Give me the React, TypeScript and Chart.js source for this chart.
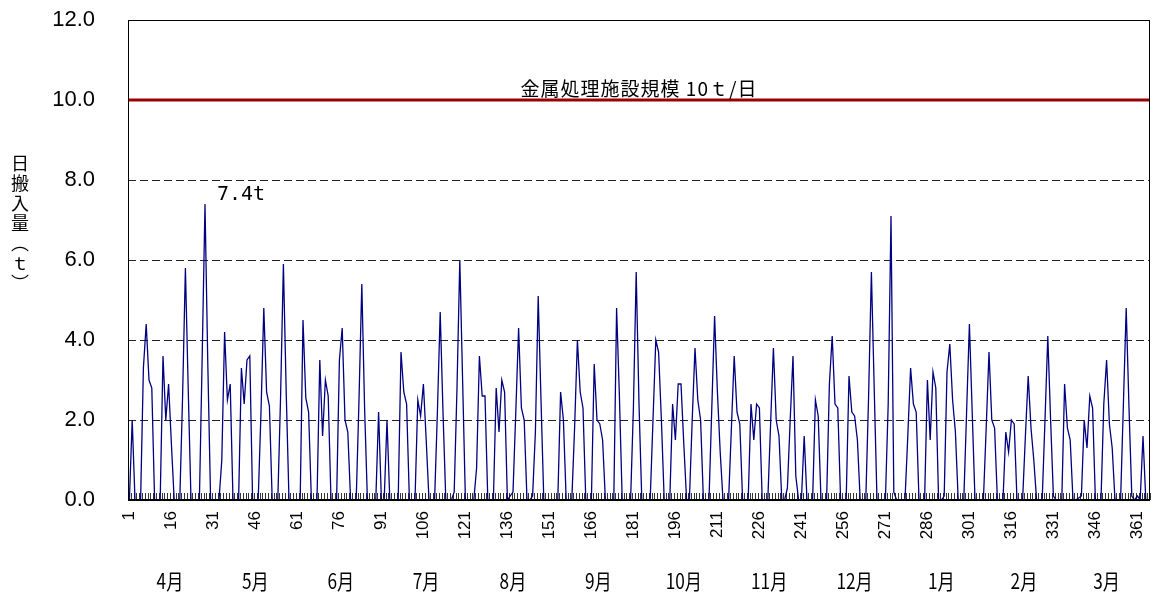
import React, { useEffect, useRef } from "react";
import { Chart, registerables } from "chart.js";

Chart.register(...registerables);

// Daily delivered amount (t) per month, fiscal year April -> March
const APR = [0, 2.0, 0, 0, 0, 3.3, 4.4, 3.0, 2.8, 0, 0, 0, 3.6, 2.0, 2.9, 1.4, 0, 0, 0, 2.6, 5.8, 2.8, 0, 0, 0, 0, 3.6, 7.4, 3.4, 0];
const MAY = [0, 0, 0, 1.0, 4.2, 2.5, 2.9, 0, 0, 0, 3.3, 2.4, 3.5, 3.6, 0, 0, 0, 2.2, 4.8, 2.7, 2.35, 0, 0, 0, 2.6, 5.9, 2.7, 0, 0, 0, 0];
const JUN = [0, 4.5, 2.55, 2.2, 0, 0, 0, 3.5, 1.6, 3.0, 2.6, 0, 0, 0, 3.5, 4.3, 2.0, 1.7, 0, 0, 0, 2.5, 5.4, 2.3, 0, 0, 0, 0, 2.2, 0];
const JUL = [0, 2.0, 0, 0, 0, 0, 3.7, 2.7, 2.4, 0, 0, 0, 2.5, 2.1, 2.9, 1.5, 0, 0, 0, 2.2, 4.7, 2.2, 0, 0, 0, 0.2, 2.8, 6.0, 3.0, 0, 0];
const AUG = [0, 0, 0.8, 3.6, 2.6, 2.6, 0, 0, 0, 2.8, 1.7, 3.0, 2.7, 0, 0.1, 0.2, 2.2, 4.3, 2.3, 2.0, 0, 0, 0.1, 1.7, 5.1, 2.5, 0, 0, 0, 0, 0];
const SEP = [0, 2.7, 2.0, 0, 0, 0, 1.8, 4.0, 2.7, 2.3, 0, 0, 0, 3.4, 2.0, 1.9, 1.5, 0, 0, 0, 0, 4.8, 2.6, 0, 0, 0, 0, 2.3, 5.7, 2.4];
const OCT = [0, 0, 0, 0, 2.0, 4.0, 3.7, 2.0, 0, 0, 0, 2.4, 1.5, 2.9, 2.9, 1.4, 0, 0, 2.0, 3.8, 2.5, 2.0, 0, 0, 0, 2.3, 4.6, 2.7, 1.2, 0, 0];
const NOV = [0, 1.8, 3.6, 2.2, 1.9, 0, 0, 0, 2.4, 1.5, 2.4, 2.3, 0, 0, 0, 1.9, 3.8, 2.0, 1.6, 0, 0, 0.3, 2.0, 3.6, 0.6, 0, 0, 1.6, 0, 0];
const DEC = [0, 2.5, 2.1, 0, 0, 0, 2.9, 4.1, 2.4, 2.3, 0, 0, 0, 3.1, 2.2, 2.1, 1.5, 0, 0, 0, 2.6, 5.7, 2.8, 0, 0, 0, 0, 2.4, 7.1, 0.2, 0];
const JAN = [0, 0, 0, 1.6, 3.3, 2.4, 2.2, 0, 0, 0, 3.0, 1.5, 3.2, 2.8, 0, 0, 0.1, 3.2, 3.9, 2.5, 1.7, 0, 0, 0, 2.2, 4.4, 2.2, 0, 0, 0, 0];
const FEB = [1.8, 3.7, 2.0, 1.8, 0, 0, 0, 1.7, 1.2, 2.0, 1.9, 0, 0, 0, 1.6, 3.1, 1.8, 1.0, 0, 0, 0, 2.0, 4.1, 2.0, 0.1, 0, 0, 0];
const MAR = [2.9, 1.8, 1.5, 0, 0, 0.05, 0.1, 2.0, 1.3, 2.6, 2.3, 0, 0, 0, 2.4, 3.5, 1.9, 1.3, 0, 0, 0, 2.4, 4.8, 2.3, 0.1, 0, 0.1, 0, 1.6, 0, 0];

const MONTH_LABELS = ["4月", "5月", "6月", "7月", "8月", "9月", "10月", "11月", "12月", "1月", "2月", "3月"];
const MONTH_MID_DAYS = [15.5, 46, 76.5, 107, 138, 168.5, 199, 229.5, 260, 291, 320.5, 350];
const TICK_STEP = 15;
const Y_MIN = 0;
const Y_MAX = 12;
const Y_STEP = 2;
const CAPACITY = 10;
const CAPACITY_LABEL = "金属処理施設規模 10ｔ/日";
const PEAK_LABEL = "7.4t";
const PEAK_DAY = 28;
const PEAK_VALUE = 7.4;
const Y_TITLE = ["日", "搬", "入", "量", "︵", "ｔ", "︶"];

const DAILY = [...APR, ...MAY, ...JUN, ...JUL, ...AUG, ...SEP, ...OCT, ...NOV, ...DEC, ...JAN, ...FEB, ...MAR];
const DAYS = DAILY.map((_, i) => String(i + 1));

const SANS = "'Liberation Sans', Arial, sans-serif";
const CJK = "'Noto Sans CJK JP', sans-serif";

const overlay = {
  id: "overlay",
  beforeDatasetsDraw(chart: any) {
    const { ctx, chartArea: a, scales } = chart;
    const x = scales.x;
    ctx.save();
    ctx.strokeStyle = "#333";
    ctx.lineWidth = 1;
    ctx.beginPath();
    for (let i = 0; i <= DAILY.length; i++) {
      const px = Math.round(x.getPixelForValue(i - 0.5)) + 0.5;
      ctx.moveTo(px, a.bottom - 7);
      ctx.lineTo(px, a.bottom);
    }
    ctx.stroke();
    ctx.restore();
  },
  afterDatasetsDraw(chart: any) {
    const { ctx, chartArea: a, scales } = chart;
    const x = scales.x;
    const y = scales.y;
    ctx.save();
    // capacity line
    const cy = y.getPixelForValue(CAPACITY);
    ctx.strokeStyle = "#9b0000";
    ctx.lineWidth = 3;
    ctx.beginPath();
    ctx.moveTo(a.left, cy);
    ctx.lineTo(a.right, cy);
    ctx.stroke();

    // frame
    ctx.strokeStyle = "#000";
    ctx.lineWidth = 1;
    ctx.beginPath();
    ctx.moveTo(a.left + 0.5, a.bottom);
    ctx.lineTo(a.left + 0.5, a.top + 0.5);
    ctx.lineTo(a.right - 0.5, a.top + 0.5);
    ctx.lineTo(a.right - 0.5, a.bottom);
    ctx.stroke();
    ctx.lineWidth = 2;
    ctx.beginPath();
    ctx.moveTo(a.left, a.bottom);
    ctx.lineTo(a.right, a.bottom);
    ctx.stroke();

    // texts
    ctx.fillStyle = "#000";
    ctx.font = `19px ${CJK}`;
    ctx.textAlign = "center";
    ctx.textBaseline = "alphabetic";
    (ctx as any).letterSpacing = "1px";
    ctx.fillText(CAPACITY_LABEL, (a.left + a.right) / 2, cy - 4);
    (ctx as any).letterSpacing = "0px";

    ctx.font = `20px 'DejaVu Sans Mono', monospace`;
    ctx.textAlign = "left";
    ctx.textBaseline = "middle";
    ctx.fillText(PEAK_LABEL, x.getPixelForValue(PEAK_DAY - 1) + 12, y.getPixelForValue(PEAK_VALUE) - 9);

    // month labels (condensed)
    ctx.font = `21px ${CJK}`;
    ctx.textAlign = "center";
    ctx.textBaseline = "middle";
    MONTH_LABELS.forEach((m, i) => {
      const mx = x.getPixelForValue(MONTH_MID_DAYS[i] - 1);
      ctx.save();
      ctx.translate(mx, 581);
      ctx.scale(0.82, 1);
      ctx.fillText(m, 0, 0);
      ctx.restore();
    });

    // y axis title (vertical)
    ctx.font = `18px ${CJK}`;
    Y_TITLE.forEach((c, i) => {
      ctx.fillText(c, 20, 163 + i * 20);
    });
    ctx.restore();
  },
};

export default function App() {
  const ref = useRef<HTMLCanvasElement | null>(null);
  useEffect(() => {
    if (!ref.current) return;
    const chart = new Chart(ref.current, {
      type: "line",
      data: {
        labels: DAYS,
        datasets: [
          {
            data: DAILY,
            borderColor: "#000080",
            borderWidth: 1.3,
            pointRadius: 0,
            tension: 0,
            fill: false,
          },
        ],
      },
      options: {
        responsive: false,
        animation: false,
        events: [],
        layout: { padding: { left: 0, top: 20, right: 4, bottom: 0 } },
        plugins: { legend: { display: false }, tooltip: { enabled: false }, title: { display: false } },
        scales: {
          x: {
            type: "category",
            offset: true,
            grid: { display: false, drawTicks: false },
            border: { display: false },
            ticks: {
              autoSkip: false,
              maxRotation: 90,
              minRotation: 90,
              padding: 11,
              color: "#000",
              font: { family: SANS, size: 17 },
              callback: (_v: any, i: number) => (i % TICK_STEP === 0 ? DAYS[i] : ""),
            },
            afterFit: (s: any) => {
              s.height = 99;
              s.paddingLeft = 0;
              s.paddingRight = 0;
              s.paddingTop = 0;
              s.paddingBottom = 0;
            },
          },
          y: {
            min: Y_MIN,
            max: Y_MAX,
            ticks: {
              stepSize: Y_STEP,
              padding: 33,
              color: "#000",
              font: { family: SANS, size: 22 },
              callback: (v: any) => Number(v).toFixed(1),
            },
            grid: { color: "#222", lineWidth: 1, drawTicks: false },
            border: { display: false, dash: [8, 4] },
            afterFit: (s: any) => {
              s.width = 128;
              s.paddingLeft = 0;
              s.paddingRight = 0;
              s.paddingTop = 0;
              s.paddingBottom = 0;
            },
          },
        },
      },
      plugins: [overlay],
    });
    return () => chart.destroy();
  }, []);
  return (
    <div style={{ position: "absolute", left: 0, top: 0, width: 1154, height: 599, background: "#fff" }}>
      <canvas ref={ref} width={1154} height={599} style={{ width: 1154, height: 599 }} />
    </div>
  );
}
